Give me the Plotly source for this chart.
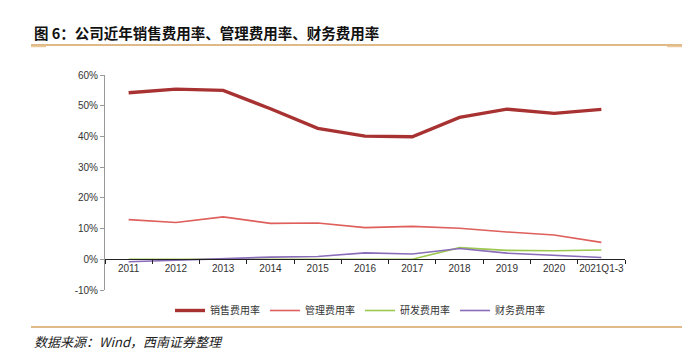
import plotly.graph_objects as go

categories = ["2011", "2012", "2013", "2014", "2015", "2016", "2017", "2018", "2019", "2020", "2021Q1-3"]
sales_rate = [54.2, 55.4, 55.0, 49.0, 42.6, 40.1, 39.9, 46.2, 48.9, 47.5, 48.8]
admin_rate = [12.9, 12.0, 13.8, 11.7, 11.8, 10.3, 10.7, 10.1, 8.9, 7.9, 5.5]
rd_rate = [0.0, 0.0, 0.0, 0.0, 0.0, 0.0, 0.0, 3.8, 2.9, 2.8, 3.0]
fin_rate = [-0.8, -0.3, 0.3, 0.7, 0.9, 2.1, 1.7, 3.5, 2.0, 1.4, 0.6]
series_names = ["销售费用率", "管理费用率", "研发费用率", "财务费用率"]
y_ticks = [-10, 0, 10, 20, 30, 40, 50, 60]

OFF = 8  # page body margin
W, H = 690 - OFF, 363 - OFF
L, R, T, B = 105, 625, 75, 290  # plot area in page pixels
pw, ph = R - L, B - T

def px(x):
    return (x - L) / pw

def py(y):
    return (B - y) / ph

fig = go.Figure()
colors = ["#A83232", "#DE5F5B", "#9CC850", "#8A6DB8"]
widths = [3.4, 1.6, 1.6, 1.6]
for name, vals, c, w in zip(series_names, [sales_rate, admin_rate, rd_rate, fin_rate], colors, widths):
    fig.add_trace(go.Scatter(x=categories, y=vals, mode="lines", name=name,
                             line=dict(color=c, width=w), hoverinfo="skip"))

cjk = "Noto Sans CJK SC"
rule = "#D6A260"
shapes = [
    dict(type="line", xref="paper", yref="paper", x0=px(31), x1=px(683), y0=py(45), y1=py(45),
         line=dict(color=rule, width=1.5)),
    dict(type="line", xref="paper", yref="paper", x0=px(31), x1=px(46), y0=py(46.5), y1=py(46.5),
         line=dict(color="#EBC89A", width=1.5)),
    dict(type="line", xref="paper", yref="paper", x0=px(667), x1=px(683), y0=py(46.5), y1=py(46.5),
         line=dict(color="#EBC89A", width=1.5)),
    dict(type="line", xref="paper", yref="paper", x0=px(31), x1=px(683), y0=py(327), y1=py(327),
         line=dict(color=rule, width=1.5)),
]

annotations = [
    dict(text="<b>图 6：公司近年销售费用率、管理费用率、财务费用率</b>", xref="paper", yref="paper",
         x=px(32), y=py(32), xanchor="left", yanchor="middle", showarrow=False,
         font=dict(family=cjk, size=14.5, color="#111111")),
    dict(text="<i>数据来源：Wind，西南证券整理</i>", xref="paper", yref="paper",
         x=px(32), y=py(341), xanchor="left", yanchor="middle", showarrow=False,
         font=dict(family=cjk + ", Liberation Sans", size=13, color="#222222")),
]

fig.update_layout(
    width=W, height=H,
    margin=dict(l=L - OFF, r=W - (R - OFF), t=T - OFF, b=H - (B - OFF), pad=0, autoexpand=False),
    paper_bgcolor="white", plot_bgcolor="white",
    showlegend=True,
    legend=dict(orientation="h", x=px(360), xanchor="center", y=py(296), yanchor="top",
                font=dict(family=cjk, size=10, color="#333333"),
                itemwidth=30, tracegroupgap=0, bgcolor="rgba(0,0,0,0)"),
    shapes=shapes, annotations=annotations,
    xaxis=dict(type="category", anchor="free", position=py(259.2), showgrid=False,
               showline=True, linecolor="#222222", linewidth=1,
               ticks="outside", tickson="boundaries", ticklen=4, tickcolor="#222222",
               tickangle=0,
               tickfont=dict(family="Liberation Sans", size=10, color="#333333"),
               range=[-0.5, 10.5], zeroline=False),
    yaxis=dict(range=[-10, 60], tickvals=y_ticks, ticktext=[f"{v}%" for v in y_ticks],
               showgrid=False, zeroline=False, showline=True, linecolor="#999999", linewidth=1,
               ticks="outside", ticklen=4, tickcolor="#999999",
               tickfont=dict(family="Liberation Sans", size=10, color="#333333"), domain=[0, 1]),
)

fig.write_html("out.html")
